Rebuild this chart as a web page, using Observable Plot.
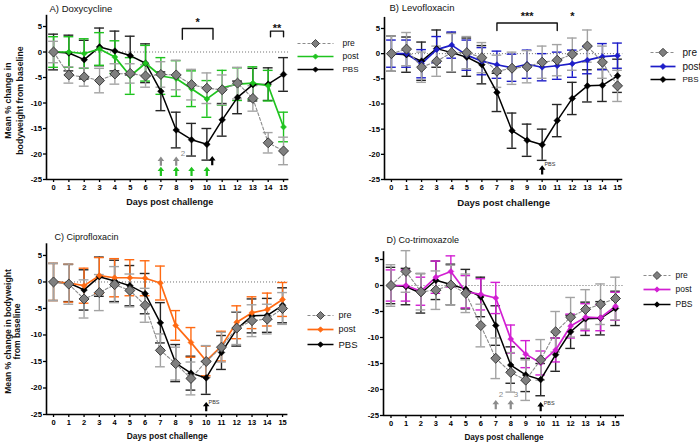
<!DOCTYPE html>
<html><head><meta charset="utf-8">
<script src="https://cdn.jsdelivr.net/npm/d3@7"></script>
<script src="https://cdn.jsdelivr.net/npm/@observablehq/plot@0.6"></script>
<style>
body{margin:0;background:#fff;}
#chart{position:relative;width:700px;height:442px;overflow:hidden;font-family:"Liberation Sans",Arial,sans-serif;}
#chart svg{position:absolute;overflow:visible;}
</style></head><body><div id="chart"></div>
<script>
// ---------- data ----------
const days = [0,1,2,3,4,5,6,7,8,9,10,11,12,13,14,15];
const yTicks = [-25,-20,-15,-10,-5,0,5];
const seriesNames = ["pre","post","PBS"];

const pbsMean = [0,-0.2,-1.5,1.0,0.2,-0.7,-2.2,-7.7,-15.3,-17.2,-18.1,-13.3,-8.9,-6.4,-6.3,-4.4];
const pbsErr  = [3.5,3.5,3.8,3.7,3.9,3.8,3.8,3.8,3.5,3.2,3.1,3.2,3.2,3.2,3.2,3.3];

const doxyPre     = [0,-4.5,-4.9,-5.6,-4.3,-4.2,-4.7,-4.4,-4.5,-6.4,-7.1,-7.4,-6.1,-9.1,-17.8,-19.4];
const doxyPreErr  = [2.1,1.6,1.8,2.4,2.0,1.9,2.2,2.5,2.9,3.0,3.0,2.9,3.1,2.5,2.0,2.7];
const doxyPost    = [0,0,-0.3,0.6,-1.0,-4.7,-2.2,-4.7,-5.2,-7.2,-9.2,-7.0,-6.3,-6.1,-6.6,-14.7];
const doxyPostErr = [3.0,3.0,2.9,3.2,3.2,3.6,3.5,3.6,3.5,3.5,3.6,3.4,3.2,3.2,3.0,2.9];

const levoPre     = [0,0.9,-2.7,-1.5,0.2,0.2,-0.8,-3.5,-2.9,-2.6,-1.7,-1.3,-0.1,1.5,-1.7,-6.4];
const levoPreErr  = [3.5,3.3,3.0,3.0,3.8,3.2,3.0,3.2,3.2,3.2,3.2,3.1,3.2,3.2,3.2,3.1];
const levoPost    = [0,0,-2.0,0.8,1.7,-0.3,-1.5,-2.2,-2.8,-2.1,-2.7,-2.4,-2.0,-1.3,-0.6,-0.4];
const levoPostErr = [2.7,2.7,2.8,2.6,2.6,3.0,2.7,2.7,2.7,2.8,2.7,2.7,2.7,2.7,2.6,2.5];

const ciproPre     = [0,-0.4,-3.2,-2.0,-0.5,-1.6,-4.4,-12.9,-15.4,-18.2,-15.0,-12.3,-8.7,-7.3,-7.0,-5.0];
const ciproPreErr  = [3.5,3.8,3.6,3.4,3.4,3.1,3.2,3.1,3.1,3.1,3.0,2.8,3.1,3.0,2.8,3.0];
const ciproPost    = [0,-0.2,-0.7,1.2,0.8,0.8,0.7,-0.2,-8.2,-11.4,-14.9,-12.1,-7.6,-5.8,-5.2,-3.3];
const ciproPostErr = [3.5,3.6,3.3,3.4,3.6,3.4,3.3,3.2,2.8,2.8,2.8,2.8,3.1,3.0,3.1,3.2];

const cotrimPre     = [0,2.7,-1.2,-0.9,0.1,-1.5,-7.7,-14.0,-16.7,-18.2,-14.3,-8.9,-6.1,-4.6,-3.6,-2.5];
const cotrimPreErr  = [4.0,4.0,3.5,3.7,3.8,3.7,4.1,3.9,3.8,3.9,3.9,3.9,3.8,3.8,3.9,4.1];
const cotrimPost    = [0,0,-1.1,1.6,2.7,-1.2,-1.7,-2.4,-10.3,-13.2,-14.9,-12.4,-7.8,-6.1,-6.2,-4.0];
const cotrimPostErr = [3.0,3.0,2.7,3.1,3.0,3.1,3.0,3.0,2.7,2.6,2.3,2.3,2.3,2.6,2.5,2.7];

// annotation arrows (day, level, which group)
const doxyArrows   = [{day:7,y:-21.4,g:"pre"},{day:8,y:-21.4,g:"pre"},{day:7,y:-23.4,g:"post"},{day:8,y:-23.4,g:"post"},{day:9,y:-23.4,g:"post"},{day:10,y:-23.4,g:"post"},{day:10.35,y:-21.3,g:"PBS"}];
const levoArrows   = [{day:10,y:-23.1,g:"PBS"}];
const ciproArrows  = [{day:10,y:-23.5,g:"PBS"}];
const cotrimArrows = [{day:7,y:-22.9,g:"pre"},{day:8,y:-22.9,g:"pre"},{day:10,y:-23.3,g:"PBS"}];
const doxyArrowLabels   = [{day:8.3,y:-19.8,t:"2",g:"pre"}];
const levoArrowLabels   = [{day:10.15,y:-22.0,t:"PBS",g:"PBS"}];
const ciproArrowLabels  = [{day:10.15,y:-22.6,t:"PBS",g:"PBS"}];
const cotrimArrowLabels = [{day:7.2,y:-21.0,t:"2",g:"pre"},{day:8.2,y:-21.0,t:"3",g:"pre"},{day:10.2,y:-22.6,t:"PBS",g:"PBS"}];

// significance brackets
const doxyBrackets = [{from:8.4,to:10.4,top:4.6,bottom:2.5,label:"*",labelY:5.7},{from:14.15,to:15,top:4.1,bottom:3.0,label:"**",labelY:4.7}];
const levoBrackets = [{from:7,to:11,top:6.1,bottom:4.6,label:"***",labelY:7.3}];
const levoStars    = [{day:12,y:7.3,label:"*"}];

// ---------- layout / style ----------
const panels = [
  {title:"A) Doxycycline", pre:doxyPre, preErr:doxyPreErr, post:doxyPost, postErr:doxyPostErr, color:"#1fc31f",
   arrows:doxyArrows, arrowLabels:doxyArrowLabels, brackets:doxyBrackets, stars:[],
   left:0, top:0, ml:46, mr:61.6, mt:14.8, mb:42, xdom:[-0.46,15.35], ydom:[-25,7.2],
   titlePos:[49,8], titleFs:9.5, xTitleDy:23, xTitleDx:2, xTitleFs:9,
   yTitle:"Mean % change in\nbodyweight from baseline", yTitlePos:[13,100], yTitleFs:8.8, yTitleLh:1.35,
   legend:{x1:297,x2:333,xt:342,ys:[43,56,69],fs:[8.5,8.5,8],mr:[3.6,2.3,2.3]}},
  {title:"B) Levofloxacin", pre:levoPre, preErr:levoPreErr, post:levoPost, postErr:levoPostErr, color:"#1d1dc8",
   arrows:levoArrows, arrowLabels:levoArrowLabels, brackets:levoBrackets, stars:levoStars,
   left:350, top:0, ml:34, mr:77.7, mt:16.9, mb:42, xdom:[-0.46,15.35], ydom:[-25,7.2],
   titlePos:[39,7], titleFs:9.5, xTitleDy:23, xTitleDx:0, xTitleFs:9.6,
   yTitle:null,
   legend:{x1:300,x2:325,xt:332,ys:[52,66,79],fs:[10,10,8],mr:[3.8,2.6,2.6]}},
  {title:"C) Ciprofloxacin", pre:ciproPre, preErr:ciproPreErr, post:ciproPost, postErr:ciproPostErr, color:"#ff6a13",
   arrows:ciproArrows, arrowLabels:ciproArrowLabels, brackets:[], stars:[],
   left:0, top:221, ml:46, mr:62.6, mt:22.3, mb:28, xdom:[-0.46,15.35], ydom:[-25,7.2],
   titlePos:[54,16], titleFs:9, xTitleDy:22, xTitleDx:0, xTitleFs:8.4,
   yTitle:"Mean % change in bodyweight\nfrom baseline", yTitlePos:[12,110], yTitleFs:8.6, yTitleLh:1.1,
   legend:{x1:307,x2:333,xt:338,ys:[94,108,123],fs:[9,9,9.5],mr:[3.6,2.4,2.4]}},
  {title:"D) Co-trimoxazole", pre:cotrimPre, preErr:cotrimPreErr, post:cotrimPost, postErr:cotrimPostErr, color:"#d21fd2",
   arrows:cotrimArrows, arrowLabels:cotrimArrowLabels, brackets:[], stars:[],
   left:350, top:221, ml:33, mr:76, mt:30.2, mb:27, xdom:[-0.5,15.6], ydom:[-25,6.5],
   titlePos:[36,19], titleFs:9, xTitleDy:22, xTitleDx:0, xTitleFs:8.2,
   yTitle:null,
   legend:{x1:293,x2:320,xt:325,ys:[54,68,83],fs:[8.5,8.5,8.5],mr:[3.6,2.4,2.4]}}
];

const preFill = "#7f7f7f", preStroke = "#3a3a3a", preBar = "#a3a3a3", pbsBar = "#262626";

const arrowSym = {draw(ctx, size){
  const r = Math.sqrt(size/Math.PI);
  const hw = r*0.72, hh = r*0.95, sw = r*0.24;
  ctx.moveTo(0,-r); ctx.lineTo(hw,-r+hh); ctx.lineTo(sw,-r+hh); ctx.lineTo(sw,r);
  ctx.lineTo(-sw,r); ctx.lineTo(-sw,-r+hh); ctx.lineTo(-hw,-r+hh); ctx.closePath();
}};
const segSym = half => ({draw(ctx){ ctx.moveTo(-half,0); ctx.lineTo(half,0); }});

function rows(vals, errs){ return days.map((d,i)=>({day:d, v:vals[i], e:errs[i]})); }

function seriesBars(data, stroke, sw){
  const capW = 0.32;
  return [
    Plot.ruleX(data, {x:"day", y1:d=>d.v-d.e, y2:d=>d.v+d.e, stroke, strokeWidth:sw}),
    Plot.ruleY(data, {y:d=>d.v+d.e, x1:d=>d.day-capW, x2:d=>d.day+capW, stroke, strokeWidth:sw}),
    Plot.ruleY(data, {y:d=>d.v-d.e, x1:d=>d.day-capW, x2:d=>d.day+capW, stroke, strokeWidth:sw})
  ];
}

function makePanel(p){
  const W = 350, H = 221;
  const pre = rows(p.pre, p.preErr), post = rows(p.post, p.postErr), pbs = rows(pbsMean, pbsErr);
  const at = (px, py) => ({frameAnchor:"top-left", dx:px-p.ml, dy:py-p.mt});
  const grpColor = g => g==="pre" ? "#8c8c8c" : g==="post" ? p.color : "#000";
  const L = p.legend;
  const legendMarks = [];
  const legStyles = [
    {stroke:"#8c8c8c", dash:"3,2", sw:1, fill:preFill, ms:preStroke},
    {stroke:p.color, dash:null, sw:1.7, fill:p.color, ms:p.color},
    {stroke:"#000", dash:null, sw:1.5, fill:"#000", ms:"#000"}
  ];
  seriesNames.forEach((name,i)=>{
    const s = legStyles[i];
    const cx = (L.x1+L.x2)/2;
    legendMarks.push(
      Plot.dot([name], {...at(cx, L.ys[i]), symbol:segSym((L.x2-L.x1)/2), stroke:s.stroke, strokeWidth:s.sw, strokeDasharray:s.dash, fill:"none", r:1}),
      Plot.dot([name], {...at(cx, L.ys[i]), symbol:"diamond2", r:L.mr[i], fill:s.fill, stroke:s.ms, strokeWidth:0.9}),
      Plot.text([name], {...at(L.xt, L.ys[i]), text:d=>d, textAnchor:"start", lineAnchor:"middle", fontSize:L.fs[i], fill:"#111"})
    );
  });

  const bracketPts = p.brackets.flatMap((b,k)=>[
    {k, x:b.from, y:b.bottom},{k, x:b.from, y:b.top},{k, x:b.to, y:b.top},{k, x:b.to, y:b.bottom}
  ]);

  const marks = [
    Plot.ruleY([0], {x1:0, x2:p.xdom[1], stroke:"#6f6f6f", strokeWidth:1, strokeDasharray:"1,2"}),
    ...seriesBars(pbs, pbsBar, 1.4),
    ...seriesBars(post, p.color, 1.4),
    ...seriesBars(pre, preBar, 1.4),
    Plot.line(pbs, {x:"day", y:"v", stroke:"#000", strokeWidth:1.5}),
    Plot.line(post, {x:"day", y:"v", stroke:p.color, strokeWidth:1.7}),
    Plot.line(pre, {x:"day", y:"v", stroke:"#8c8c8c", strokeWidth:1.1, strokeDasharray:"3,2"}),
    Plot.dot(pbs, {x:"day", y:"v", symbol:"diamond2", r:3.0, fill:"#000", stroke:"#000", strokeWidth:0.5}),
    Plot.dot(post, {x:"day", y:"v", symbol:"diamond2", r:2.7, fill:p.color, stroke:p.color, strokeWidth:0.5}),
    Plot.dot(pre, {x:"day", y:"v", symbol:"diamond2", r:4.5, fill:preFill, stroke:preStroke, strokeWidth:1}),
    Plot.ruleX([p.xdom[0]], {stroke:"#000", strokeWidth:1.6}),
    Plot.ruleY([p.ydom[0]], {stroke:"#000", strokeWidth:1.6}),
    Plot.axisX({ticks:days, tickSize:3, tickPadding:2.5, fontSize:7.5, fontWeight:"bold", strokeWidth:1.3, tickFormat:d=>String(d), label:null}),
    Plot.axisY({ticks:yTicks, tickSize:3, tickPadding:1.5, fontSize:7.8, fontWeight:"bold", strokeWidth:1.3, tickFormat:d=>String(d), label:null}),
    Plot.dot(p.arrows, {x:"day", y:"y", symbol:arrowSym, r:4.6, fill:d=>grpColor(d.g), stroke:"none"}),
    Plot.text(p.arrowLabels, {x:"day", y:"y", text:"t", textAnchor:"start", fontSize:d=>d.t==="PBS"?5.5:8, fill:d=>d.g==="PBS"?"#333":"#8c8c8c"}),
    Plot.line(bracketPts, {x:"x", y:"y", z:"k", stroke:"#111", strokeWidth:1.4, curve:"linear"}),
    Plot.text(p.brackets, {x:d=>(d.from+d.to)/2, y:"labelY", text:"label", fontSize:11, fontWeight:"bold", fill:"#111"}),
    Plot.text(p.stars, {x:"day", y:"y", text:"label", fontSize:11, fontWeight:"bold", fill:"#111"}),
    Plot.text([p.title], {...at(p.titlePos[0], p.titlePos[1]), text:d=>d, textAnchor:"start", lineAnchor:"middle", fontSize:p.titleFs, fill:"#111"}),
    Plot.text(["Days post challenge"], {frameAnchor:"bottom", dx:p.xTitleDx, dy:p.xTitleDy, text:d=>d, lineAnchor:"middle", fontSize:p.xTitleFs, fontWeight:"bold", fill:"#111"}),
    ...legendMarks
  ];
  if (p.yTitle) {
    const midY = (p.mt + (H - p.mb))/2;
    marks.push(Plot.text([p.yTitle], {frameAnchor:"left", dx:p.yTitlePos[0]-p.ml, dy:p.yTitlePos[1]-midY, text:d=>d, rotate:-90, textAnchor:"middle", lineAnchor:"middle", lineHeight:p.yTitleLh, fontSize:p.yTitleFs, fontWeight:"bold", fill:"#111"}));
  }

  const svg = Plot.plot({
    width:W, height:H,
    marginLeft:p.ml, marginRight:p.mr, marginTop:p.mt, marginBottom:p.mb,
    x:{domain:p.xdom, label:null},
    y:{domain:p.ydom, label:null},
    style:{background:"transparent", overflow:"visible", fontFamily:"'Liberation Sans', Arial, sans-serif"},
    marks
  });
  svg.style.left = p.left + "px";
  svg.style.top = p.top + "px";
  return svg;
}

const chart = document.getElementById("chart");
panels.forEach(p => chart.appendChild(makePanel(p)));
</script>
</body></html>
